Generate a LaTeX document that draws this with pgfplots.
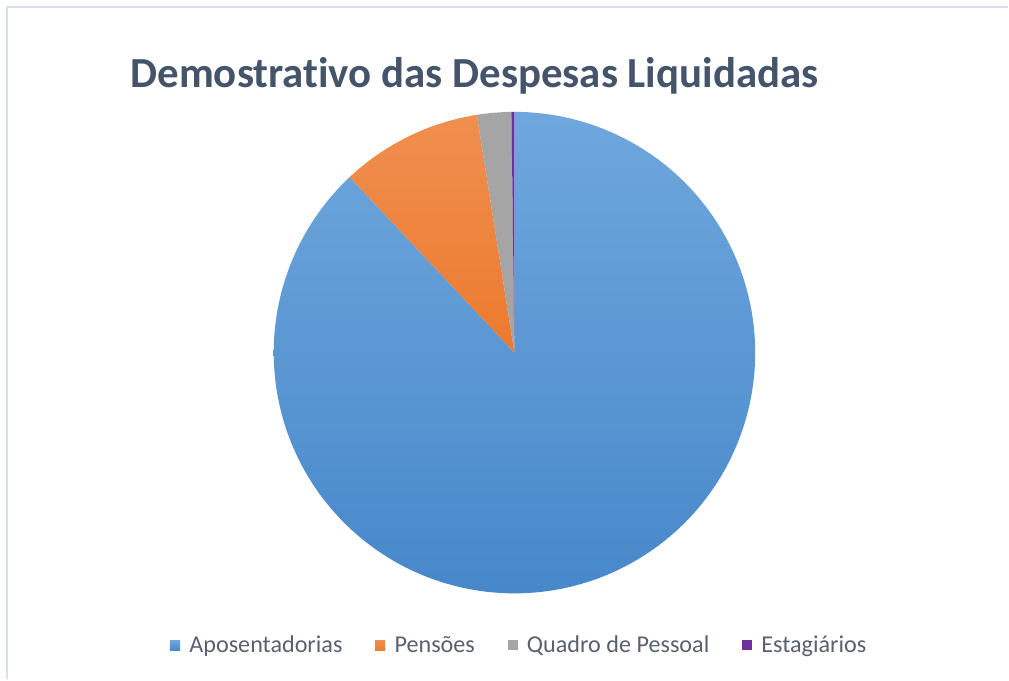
\documentclass[border=0pt]{standalone}
\usepackage{pgfplots}
\pgfplotsset{compat=1.18}
\usepackage{fontspec}
\setmainfont{Carlito}[Ligatures=NoCommon]
\definecolor{cBlueT}{HTML}{6FA7DD}
\definecolor{cBlueB}{HTML}{4788CA}
\definecolor{cBlue}{HTML}{5B9BD5}
\definecolor{cOrT}{HTML}{F08F50}
\definecolor{cOrB}{HTML}{EC7A2E}
\definecolor{cOr}{HTML}{ED7D31}
\definecolor{cGray}{HTML}{A5A5A5}
\definecolor{cPurple}{HTML}{7030A0}
\definecolor{cTitle}{HTML}{44546A}
\definecolor{cLegend}{HTML}{5A6070}
\definecolor{cFrame}{HTML}{DCDFEA}
% shares of the liquidated expenses (percent)
\def\vA{88.0}% Aposentadorias
\def\vB{9.5}%  Pensoes
\def\vC{2.3}%  Quadro de Pessoal
\def\vD{0.2}%  Estagiarios
\pgfmathsetmacro\aA{90}
\pgfmathsetmacro\aB{\aA-3.6*\vA}
\pgfmathsetmacro\aC{\aB-3.6*\vB}
\pgfmathsetmacro\aD{\aC-3.6*\vC}
\pgfmathsetmacro\aE{\aD-3.6*\vD}
\def\cx{515}\def\cy{327}\def\r{241}
\begin{document}
\begin{tikzpicture}
\begin{axis}[
  x=0.75bp, y=0.75bp,
  xmin=0, xmax=1009, ymin=0, ymax=680,
  hide axis, clip=false,
  legend columns=4,
  legend style={at={(axis cs:520,34)}, anchor=center, draw=none, fill=none,
    font=\fontsize{18.2}{21}\selectfont\color{cLegend},
    /tikz/every even column/.append style={column sep=22.5bp},
    /tikz/every odd column/.append style={column sep=5bp},
    inner sep=0pt},
]
\path[fill=white] (0,0) rectangle (1009,680);
\draw[cFrame, line width=1.6bp] (7,0) -- (7,673) -- (1009,673);
\node[anchor=base, font=\fontsize{32.3}{38}\selectfont\bfseries, text=cTitle] at (475,592) {Demostrativo das Despesas Liquidadas};
\addplot[draw=none, top color=cBlueT, bottom color=cBlueB, domain=\aB:\aA, samples=200,
  legend image code/.code={\fill[cBlue] (0bp,-3.8bp) rectangle (7.6bp,3.8bp);}]
  ({\cx+\r*cos(x)},{\cy+\r*sin(x)}) -- (\cx,\cy) -- cycle;
\addlegendentry{Aposentadorias}
\addplot[draw=none, top color=cOrT, bottom color=cOrB, domain=\aC:\aB, samples=40,
  legend image code/.code={\fill[cOr] (0bp,-3.8bp) rectangle (7.6bp,3.8bp);}]
  ({\cx+\r*cos(x)},{\cy+\r*sin(x)}) -- (\cx,\cy) -- cycle;
\addlegendentry{Pensões}
\addplot[draw=none, fill=cGray, domain=\aD:\aC, samples=15,
  legend image code/.code={\fill[cGray] (0bp,-3.8bp) rectangle (7.6bp,3.8bp);}]
  ({\cx+\r*cos(x)},{\cy+\r*sin(x)}) -- (\cx,\cy) -- cycle;
\addlegendentry{Quadro de Pessoal}
\addplot[draw=none, fill=cPurple, domain=\aE:\aD, samples=5,
  legend image code/.code={\fill[cPurple] (0bp,-3.8bp) rectangle (7.6bp,3.8bp);}]
  ({\cx+\r*cos(x)},{\cy+\r*sin(x)}) -- (\cx,\cy) -- cycle;
\addlegendentry{Estagiários}
\end{axis}
\end{tikzpicture}
\end{document}
